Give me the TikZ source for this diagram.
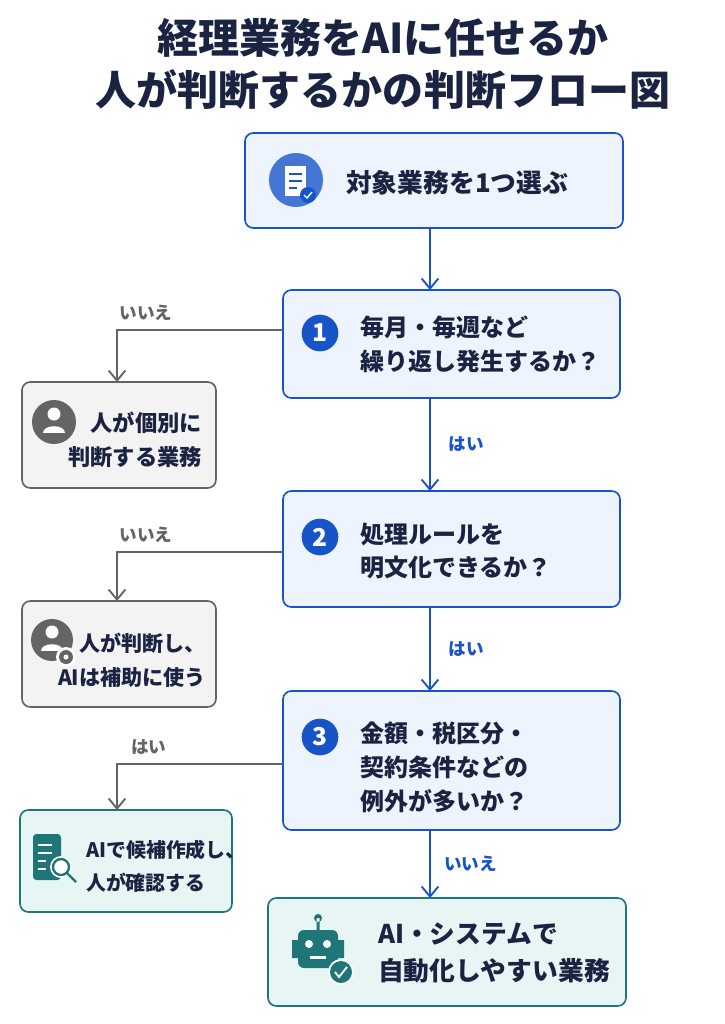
\documentclass[tikz,border=0pt]{standalone}
\usepackage{fontspec}
\setmainfont{Noto Sans CJK JP}
\usetikzlibrary{positioning,arrows.meta}
\definecolor{navyText}{RGB}{26,36,66}
\definecolor{flowBlue}{RGB}{22,84,200}
\definecolor{blueFill}{RGB}{238,244,253}
\definecolor{grayLine}{RGB}{100,100,100}
\definecolor{grayFill}{RGB}{243,243,243}
\definecolor{tealLine}{RGB}{30,118,120}
\definecolor{tealFill}{RGB}{232,245,245}
\tikzstyle{askBox} = [draw=flowBlue, fill=blueFill, line width=1.4pt, rounded corners=.25cm]
\tikzstyle{grayBox} = [draw=grayLine, fill=grayFill, line width=1.4pt, rounded corners=.25cm]
\tikzstyle{tealBox} = [draw=tealLine, fill=tealFill, line width=1.4pt, rounded corners=.25cm]
\tikzstyle{boxText} = [font=\fontsize{20.5}{29}\selectfont\bfseries, text=navyText, align=left, anchor=west]
\tikzstyle{sideText} = [font=\fontsize{18}{29}\selectfont\bfseries, text=navyText, align=right, anchor=east]
\tikzstyle{yesArrow} = [draw=flowBlue, line width=1.6pt, -{Straight Barb[length=3mm,width=5mm]}]
\tikzstyle{noArrow} = [draw=grayLine, line width=1.6pt, -{Straight Barb[length=3mm,width=5mm]}]
\tikzstyle{flowLabel} = [font=\fontsize{15}{17}\selectfont\bfseries]
\tikzstyle{stepMark} = [circle, fill=flowBlue, text=white, minimum size=1.1cm, inner sep=0pt, font=\fontsize{21}{21}\selectfont\bfseries]
\begin{document}
\begin{tikzpicture}[x=0.03cm, y=-0.03cm]
  \useasboundingbox (0,0) rectangle (725,1024);
  % title
  \node [font=\fontsize{35}{44}\selectfont\bfseries, text=navyText, align=center] (title) at (383,64)
    {経理業務をAIに任せるか\\人が判断するかの判断フロー図};
  % main column
  \draw [askBox] (245,133) rectangle (623,228);
  \coordinate (startTop) at (430,228);
  \fill [flowBlue!80] (296,180) circle (27);
  \fill [white] (285,166) rectangle (306,196);
  \draw [flowBlue, line width=1.5pt] (289,174) -- (302,174) (289,181) -- (302,181) (289,188) -- (297,188);
  \fill [flowBlue] (308,195) circle (8);
  \draw [white, line width=1.2pt] (304,195) -- (307,198) -- (312,192);
  \node [boxText, font=\fontsize{22}{29}\selectfont\bfseries] (start) at (342,183) {対象業務を1つ選ぶ};
  \draw [askBox] (283,290) rectangle (620,398);
  \node [stepMark] (one) at (320,333) {1};
  \node [boxText] (askOne) at (356,344) {毎月・毎週など\\繰り返し発生するか？};
  \draw [askBox] (283,491) rectangle (620,607);
  \node [stepMark] (two) at (320,537) {2};
  \node [boxText] (askTwo) at (356,551) {処理ルールを\\明文化できるか？};
  \draw [askBox] (283,691) rectangle (620,830);
  \node [stepMark] (three) at (320,737) {3};
  \node [boxText] (askThree) at (356,767) {金額・税区分・\\契約条件などの\\例外が多いか？};
  \draw [tealBox] (268,898) rectangle (626,1006);
  \node [boxText, font=\fontsize{22}{31}\selectfont\bfseries] (autoWork) at (374,953) {AI・システムで\\自動化しやすい業務};
  % robot
  \fill [tealLine] (318,918) circle (4) (316.5,918) rectangle (319.5,930);
  \fill [tealLine, rounded corners=5pt] (298,930) rectangle (338,968);
  \fill [tealLine] (292,940) rectangle (298,958) (338,940) rectangle (344,958);
  \fill [white] (309,944) circle (4) (327,944) circle (4);
  \fill [white] (310,956) rectangle (326,959);
  \fill [white] (341,972) circle (13);
  \fill [tealLine] (341,972) circle (11);
  \draw [white, line width=1.6pt] (335,972) -- (339,977) -- (347,967);
  % side results
  \draw [grayBox] (22,382) rectangle (216,488);
  \fill [grayLine] (54,422) circle (22);
  \fill [white] (54,414) circle (6.5);
  \fill [white] (43,433) .. controls (43,424) and (65,424) .. (65,433) -- cycle;
  \node [sideText, font=\fontsize{19}{29}\selectfont\bfseries] (humanWork) at (206,440) {人が個別に\\判断する業務};
  \draw [grayBox] (22,601) rectangle (216,707);
  \fill [grayLine] (52,640) circle (21);
  \fill [white] (52,632) circle (6.5);
  \fill [white] (41,651) .. controls (41,642) and (63,642) .. (63,651) -- cycle;
  \fill [white] (66,657) circle (10);
  \fill [grayLine] (66,657) circle (7);
  \fill [white] (66,657) circle (2.5);
  \node [sideText] (helpWork) at (210,660) {人が判断し、\\AIは補助に使う};
  \draw [tealBox] (20,810) rectangle (232,912);
  \fill [tealLine, rounded corners=3pt] (33,834) rectangle (61,880);
  \draw [white, line width=1.5pt] (38,845) -- (52,845) (38,853) -- (52,853) (38,861) -- (46,861) (38,869) -- (46,869);
  \fill [white] (61,867) circle (11);
  \draw [tealLine, line width=2pt] (61,867) circle (8) (67,873) -- (76,882);
  \node [boxText, font=\fontsize{17}{28}\selectfont\bfseries] (draftWork) at (82,866) {AIで候補作成し、\\人が確認する};
  % connectors
  \coordinate (oneTop) at (430,290);
  \coordinate (oneBottom) at (430,398);
  \coordinate (twoTop) at (430,491);
  \coordinate (twoBottom) at (430,607);
  \coordinate (threeTop) at (430,691);
  \coordinate (threeBottom) at (430,830);
  \coordinate (autoTop) at (430,898);
  \draw [yesArrow] (startTop) -- (oneTop);
  \draw [yesArrow] (oneBottom) -- node [flowLabel, text=flowBlue, right=12pt] {はい} (twoTop);
  \draw [yesArrow] (twoBottom) -- node [flowLabel, text=flowBlue, right=12pt] {はい} (threeTop);
  \draw [yesArrow] (threeBottom) -- node [flowLabel, text=flowBlue, right=8pt] {いいえ} (autoTop);
  \coordinate (oneLeft) at (283,330);
  \coordinate (twoLeft) at (283,552);
  \coordinate (threeLeft) at (283,764);
  \draw [noArrow] (oneLeft) -- (117,330) node [flowLabel, text=grayLine, above right=4pt and -2pt] {いいえ} -- (117,382);
  \draw [noArrow] (twoLeft) -- (117,552) node [flowLabel, text=grayLine, above right=4pt and -2pt] {いいえ} -- (117,601);
  \draw [noArrow] (threeLeft) -- (117,764) node [flowLabel, text=grayLine, above right=4pt and 8pt] {はい} -- (117,810);
\end{tikzpicture}
\end{document}
